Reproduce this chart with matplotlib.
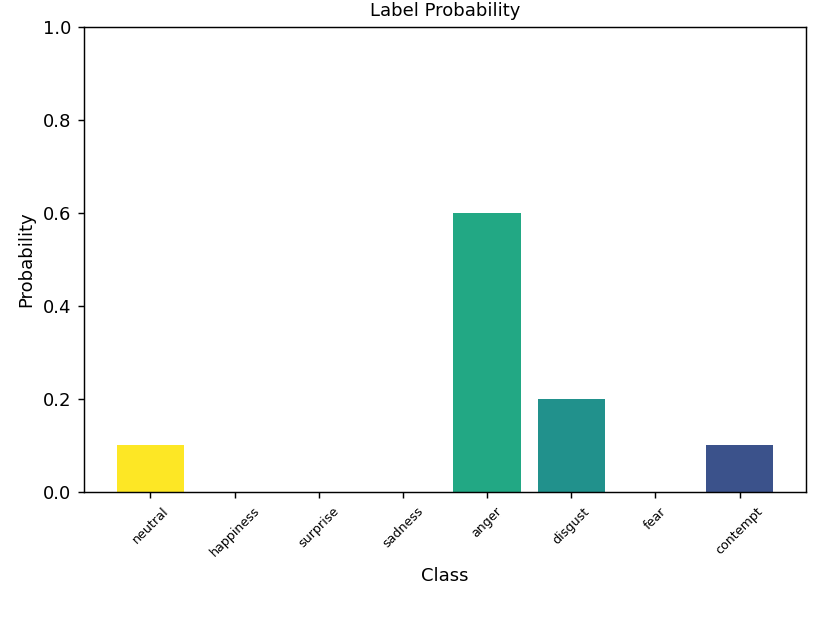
import numpy as np
import matplotlib
matplotlib.use('Agg')
import matplotlib.pyplot as plt

# данные
classes = ['neutral', 'happiness', 'surprise', 'sadness', 'anger', 'disgust', 'fear', 'contempt']
probs = [0.1, 0.0, 0.0, 0.0, 0.6, 0.2, 0.0, 0.1]
bar_colors = ['#fde725', '#a0da39', '#4ac16d', '#1fa187', '#22a884', '#21918c', '#31688e', '#3b528b']

DPI = 130
fig = plt.figure(figsize=(830 / DPI, 623 / DPI))
ax = fig.add_axes([0.1012, 0.2103, 0.8699, 0.7464])

x = np.arange(len(classes))
ax.bar(x, probs, color=bar_colors, width=0.8)
ax.set_ylim(0, 1.0)
ax.set_xticks(x)
ax.set_xticklabels(classes, rotation=45, fontsize=7)
ax.set_title('Label Probability', fontsize=10)
ax.set_xlabel('Class')
ax.set_ylabel('Probability')

fig.savefig('out.png', dpi=DPI)
